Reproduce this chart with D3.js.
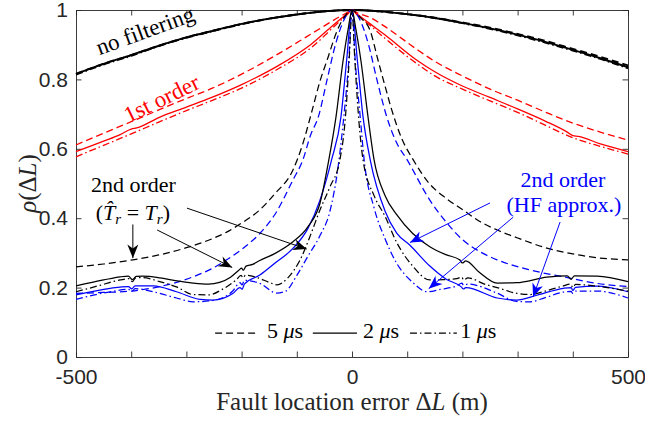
<!DOCTYPE html>
<html>
<head>
<meta charset="utf-8">
<script src="https://cdn.jsdelivr.net/npm/d3@7"></script>
<style>
  body { margin: 0; background: #fff; }
</style>
</head>
<body>
<div id="screen"></div>
<script>
// values: [fault location error (m), rho]
// no filtering
var noFilt5 = [[-500,0.816],[-450,0.845],[-400,0.87],[-350,0.897],[-300,0.921],[-250,0.941],[-200,0.96],[-150,0.975],[-100,0.987],[-50,0.996],[0,1],
  [50,0.996],[100,0.988],[150,0.978],[200,0.964],[250,0.949],[300,0.931],[350,0.911],[400,0.888],[450,0.865],[500,0.84]];
var noFilt2 = [[-500,0.816],[-450,0.845],[-400,0.87],[-350,0.897],[-300,0.921],[-250,0.941],[-200,0.96],[-150,0.975],[-100,0.987],[-50,0.996],[0,1],
  [50,0.996],[100,0.988],[150,0.977],[200,0.963],[250,0.947],[300,0.929],[350,0.908],[400,0.885],[450,0.861],[500,0.835]];
var noFilt1 = [[-500,0.814],[-450,0.843],[-400,0.868],[-350,0.896],[-300,0.92],[-250,0.94],[-200,0.959],[-150,0.975],[-100,0.987],[-50,0.996],[0,1],
  [50,0.996],[100,0.988],[150,0.977],[200,0.962],[250,0.946],[300,0.927],[350,0.906],[400,0.883],[450,0.859],[500,0.832]];

// 1st order
var red5 = [[-500,0.611],[-450,0.645],[-400,0.678],[-350,0.712],[-300,0.745],[-254,0.774],[-200,0.815],[-132,0.875],[-75,0.93],[-24,0.979],[-8,0.993],[0,1],
  [8,0.993],[33,0.978],[60,0.952],[117,0.887],[150,0.852],[200,0.81],[250,0.772],[300,0.74],[350,0.706],[400,0.674],[450,0.648],[500,0.625]];
var red2 = [[-500,0.592],[-450,0.622],[-420,0.641],[-400,0.657],[-390,0.66],[-350,0.69],[-300,0.72],[-254,0.748],[-200,0.785],[-132,0.841],[-75,0.9],[-24,0.97],[-8,0.99],[0,1],
  [8,0.99],[33,0.96],[60,0.928],[117,0.856],[150,0.822],[200,0.781],[250,0.748],[300,0.715],[350,0.68],[390,0.648],[400,0.638],[410,0.636],[450,0.614],[500,0.592]];
var red1 = [[-500,0.577],[-450,0.61],[-400,0.643],[-350,0.677],[-300,0.71],[-254,0.739],[-200,0.775],[-132,0.832],[-75,0.89],[-24,0.965],[-8,0.988],[0,1],
  [8,0.988],[33,0.955],[60,0.918],[117,0.846],[150,0.81],[200,0.772],[250,0.738],[300,0.705],[350,0.668],[400,0.632],[450,0.607],[500,0.585]];

// 2nd order, exact Tr (black)
var tr5 = [[-500,0.26],[-450,0.268],[-397,0.28],[-350,0.294],[-300,0.315],[-250,0.343],[-227,0.36],[-200,0.386],[-167,0.424],[-140,0.47],[-107,0.539],[-90,0.61],[-72,0.712],[-58,0.795],[-45,0.856],[-27,0.94],[-14,0.98],[0,1],
  [14,0.98],[33,0.94],[47,0.856],[60,0.78],[72,0.712],[90,0.63],[111,0.568],[140,0.5],[170,0.458],[201,0.424],[230,0.392],[263,0.366],[300,0.343],[353,0.314],[400,0.297],[444,0.286],[500,0.28]];
var tr2 = [[-500,0.205],[-450,0.222],[-420,0.231],[-405,0.233],[-398,0.223],[-391,0.232],[-379,0.233],[-348,0.228],[-320,0.22],[-288,0.213],[-260,0.21],[-240,0.215],[-220,0.23],[-205,0.25],[-200,0.256],[-197,0.25],[-192,0.262],[-180,0.267],[-167,0.278],[-140,0.298],[-107,0.332],[-80,0.375],[-58,0.443],[-42,0.568],[-29,0.692],[-16,0.856],[-7,0.945],[0,1],
  [7,0.945],[16,0.856],[29,0.692],[40,0.568],[60,0.465],[81,0.41],[110,0.356],[141,0.318],[170,0.295],[195,0.28],[200,0.271],[206,0.277],[230,0.245],[263,0.213],[298,0.214],[353,0.23],[390,0.234],[397,0.224],[403,0.234],[444,0.233],[500,0.217]];
var tr1 = [[-500,0.188],[-460,0.205],[-420,0.222],[-403,0.226],[-398,0.217],[-392,0.228],[-379,0.229],[-350,0.218],[-318,0.202],[-288,0.18],[-260,0.179],[-235,0.195],[-210,0.222],[-201,0.235],[-197,0.228],[-193,0.236],[-170,0.228],[-150,0.215],[-136,0.208],[-115,0.23],[-94,0.28],[-75,0.352],[-58,0.424],[-40,0.49],[-22,0.568],[-12,0.69],[-5,0.86],[0,1],
  [5,0.86],[12,0.69],[20,0.568],[40,0.465],[60,0.405],[81,0.33],[110,0.262],[141,0.222],[165,0.223],[190,0.226],[199,0.23],[202,0.222],[210,0.228],[240,0.21],[263,0.2],[300,0.183],[322,0.18],[350,0.19],[383,0.205],[396,0.21],[400,0.2],[405,0.209],[444,0.204],[500,0.19]];

// 2nd order, HF approximation (blue)
var hf5 = [[-500,0.183],[-450,0.186],[-408,0.189],[-348,0.203],[-288,0.231],[-250,0.258],[-227,0.28],[-200,0.31],[-167,0.356],[-140,0.41],[-107,0.51],[-89,0.568],[-75,0.64],[-61,0.692],[-45,0.8],[-30,0.9],[-15,0.97],[0,1],
  [15,0.97],[30,0.9],[45,0.8],[63,0.692],[80,0.62],[100,0.568],[141,0.452],[170,0.39],[201,0.337],[230,0.305],[263,0.28],[322,0.251],[383,0.231],[444,0.212],[500,0.203]];
var hf2 = [[-500,0.179],[-438,0.198],[-405,0.203],[-399,0.196],[-393,0.205],[-360,0.205],[-318,0.188],[-275,0.166],[-252,0.164],[-216,0.183],[-203,0.2],[-199,0.195],[-195,0.21],[-167,0.236],[-140,0.27],[-107,0.313],[-80,0.37],[-58,0.452],[-37,0.568],[-20,0.692],[-10,0.85],[0,1],
  [10,0.85],[20,0.692],[33,0.568],[60,0.42],[81,0.357],[105,0.322],[141,0.262],[170,0.225],[198,0.202],[202,0.196],[206,0.2],[263,0.17],[298,0.164],[335,0.178],[383,0.198],[397,0.2],[400,0.192],[405,0.201],[444,0.204],[500,0.188]];
var hf1 = [[-500,0.166],[-438,0.188],[-405,0.195],[-399,0.189],[-393,0.197],[-360,0.188],[-318,0.17],[-288,0.159],[-252,0.163],[-216,0.19],[-203,0.214],[-199,0.208],[-195,0.221],[-167,0.212],[-136,0.184],[-120,0.19],[-100,0.235],[-80,0.29],[-58,0.35],[-40,0.42],[-25,0.55],[-15,0.69],[-6,0.85],[0,1],
  [6,0.85],[15,0.69],[22,0.568],[40,0.43],[60,0.34],[81,0.27],[110,0.215],[136,0.188],[160,0.195],[190,0.205],[199,0.213],[202,0.207],[210,0.21],[263,0.184],[298,0.16],[322,0.159],[350,0.171],[383,0.187],[397,0.189],[400,0.183],[405,0.19],[444,0.19],[500,0.17]];

var xTicks = [-500,-400,-300,-200,-100,0,100,200,300,400,500];
var xTickLabels = ["-500","","","","","0","","","","","500"];
var yTicks = [0,0.2,0.4,0.6,0.8,1];
var yTickLabels = ["0","0.2","0.4","0.6","0.8","1"];

var W = 645, H = 422;
var padL = 76, padR = 628, padT = 10, padB = 357;
var SERIF = "'Liberation Serif','Times New Roman',serif";
var SANS = "'Liberation Sans',Arial,Helvetica,sans-serif";
var DASH = "7,4", DASHDOT = "7,3,1.5,3";

var x = d3.scaleLinear().domain([-500, 500]).range([padL, padR]);
var y = d3.scaleLinear().domain([0, 1]).range([padB, padT]);

var series = [
  [noFilt5, "#000", DASH, 1.9], [noFilt1, "#000", DASHDOT, 1.9], [noFilt2, "#000", null, 1.9],
  [red5, "#ff0000", DASH, 1.3], [red2, "#ff0000", null, 1.3], [red1, "#ff0000", DASHDOT, 1.3],
  [hf5, "#0000ff", DASH, 1.25], [hf2, "#0000ff", null, 1.25], [hf1, "#0000ff", DASHDOT, 1.25],
  [tr5, "#000", DASH, 1.25], [tr2, "#000", null, 1.25], [tr1, "#000", DASHDOT, 1.25]
];

var svg = d3.select("#screen").append("svg")
  .attr("width", W).attr("height", H);

svg.append("rect").attr("width", W).attr("height", H).attr("fill", "#fff");

var defs = svg.append("defs");
[["ahK", "#000"], ["ahB", "#0000ff"]].forEach(function(m){
  defs.append("marker")
    .attr("id", m[0])
    .attr("viewBox", "-14 -7 15 14")
    .attr("refX", 0).attr("refY", 0)
    .attr("markerWidth", 15).attr("markerHeight", 14)
    .attr("markerUnits", "userSpaceOnUse")
    .attr("orient", "auto")
    .append("path")
    .attr("d", "M0,0 L-13.5,-5.5 L-9.5,0 L-13.5,5.5 Z")
    .attr("fill", m[1]);
});

//axes box with inward ticks
var axCol = "#262626";
function styleAxis(g){
  g.select(".domain").attr("stroke", axCol).attr("stroke-width", 0.9);
  g.selectAll(".tick line").attr("stroke", axCol).attr("stroke-width", 0.9);
  g.selectAll(".tick text").attr("fill", axCol).attr("font-family", SANS).attr("font-size", 21);
}
svg.append("g").attr("transform", "translate(0," + padB + ")")
  .call(d3.axisBottom(x).tickValues(xTicks).tickSizeInner(-5.5).tickSizeOuter(0).tickPadding(12)
    .tickFormat(function(d, i){ return xTickLabels[i]; }))
  .call(styleAxis);
svg.append("g").attr("transform", "translate(0," + padT + ")")
  .call(d3.axisTop(x).tickValues(xTicks).tickSizeInner(-5.5).tickSizeOuter(0).tickFormat(""))
  .call(styleAxis);
svg.append("g").attr("transform", "translate(" + padL + ",0)")
  .call(d3.axisLeft(y).tickValues(yTicks).tickSizeInner(-5.5).tickSizeOuter(0).tickPadding(8)
    .tickFormat(function(d, i){ return yTickLabels[i]; }))
  .call(styleAxis);
svg.append("g").attr("transform", "translate(" + padR + ",0)")
  .call(d3.axisRight(y).tickValues(yTicks).tickSizeInner(-5.5).tickSizeOuter(0).tickFormat(""))
  .call(styleAxis);

//curves
var line = d3.line()
  .x(function(d){ return x(d[0]); })
  .y(function(d){ return y(d[1]); })
  .curve(d3.curveMonotoneX);

svg.append("g").selectAll("path")
  .data(series)
  .enter()
  .append("path")
  .attr("d", function(s){ return line(s[0]); })
  .attr("fill", "none")
  .attr("stroke", function(s){ return s[1]; })
  .attr("stroke-width", function(s){ return s[3]; })
  .attr("stroke-dasharray", function(s){ return s[2]; });

//annotation arrows, data coords
var arrowsK = [[-397,0.382,-397,0.285],[-353,0.366,-217,0.258],[-299,0.429,-82,0.311]];
var arrowsB = [[250,0.444,105,0.33],[292,0.403,139,0.197],[377,0.389,328,0.173]];
function drawArrows(list, col, mk){
  svg.append("g").selectAll("line").data(list).enter().append("line")
    .attr("x1", d => x(d[0])).attr("y1", d => y(d[1]))
    .attr("x2", d => x(d[2])).attr("y2", d => y(d[3]))
    .attr("stroke", col).attr("stroke-width", 1)
    .attr("marker-end", "url(#" + mk + ")");
}
drawArrows(arrowsK, "#000", "ahK");
drawArrows(arrowsB, "#0000ff", "ahB");

function label(xv, yv, col, size, rot){
  var t = svg.append("text")
    .attr("font-family", SERIF).attr("font-size", size).attr("fill", col)
    .attr("text-anchor", "middle")
    .attr("transform", "translate(" + x(xv) + "," + y(yv) + ")" + (rot ? " rotate(" + rot + ")" : ""));
  return t;
}

label(-370, 0.92, "#000", 23, -20).text("no filtering");
label(-339, 0.725, "#ff0000", 23, -26).text("1st order");

label(-396, 0.476, "#000", 22).text("2nd order");
var t2 = label(-397, 0.395, "#000", 22);
t2.append("tspan").text("(");
t2.append("tspan").attr("font-style", "italic").text("T\u0302");
t2.append("tspan").attr("font-style", "italic").attr("font-size", 15).attr("dy", 4).text("r");
t2.append("tspan").attr("dy", -4).text(" = ");
t2.append("tspan").attr("font-style", "italic").text("T");
t2.append("tspan").attr("font-style", "italic").attr("font-size", 15).attr("dy", 4).text("r");
t2.append("tspan").attr("dy", -4).text(")");

label(382, 0.49, "#0000ff", 22).text("2nd order");
label(384, 0.418, "#0000ff", 22).text("(HF approx.)");

//legend for the pulse widths
var legY = 0.069, legTY = 0.055;
var legItems = [[-248,-170,-154,"5",DASH],[-71,9,20,"2",null],[105,190,196,"1",DASHDOT]];
legItems.forEach(function(it){
  svg.append("line")
    .attr("x1", x(it[0])).attr("x2", x(it[1]))
    .attr("y1", y(legY)).attr("y2", y(legY))
    .attr("stroke", "#000").attr("stroke-width", 1.2)
    .attr("stroke-dasharray", it[4]);
  var t = svg.append("text")
    .attr("x", x(it[2])).attr("y", y(legTY))
    .attr("font-family", SERIF).attr("font-size", 22).attr("fill", "#000");
  t.append("tspan").text(it[3] + " ");
  t.append("tspan").attr("font-style", "italic").text("\u03bc");
  t.append("tspan").text("s");
});

//axis titles
var xl = svg.append("text")
  .attr("x", (padL + padR) / 2).attr("y", 410)
  .attr("text-anchor", "middle")
  .attr("font-family", SERIF).attr("font-size", 25).attr("fill", axCol);
xl.append("tspan").text("Fault location error \u0394");
xl.append("tspan").attr("font-style", "italic").text("L");
xl.append("tspan").text(" (m)");

var yl = svg.append("text")
  .attr("transform", "translate(36," + (padT + padB) / 2 + ") rotate(-90)")
  .attr("text-anchor", "middle")
  .attr("font-family", SERIF).attr("font-size", 25).attr("fill", axCol);
yl.append("tspan").attr("font-style", "italic").text("\u03c1");
yl.append("tspan").text("(\u0394");
yl.append("tspan").attr("font-style", "italic").text("L");
yl.append("tspan").text(")");
</script>
</body>
</html>
